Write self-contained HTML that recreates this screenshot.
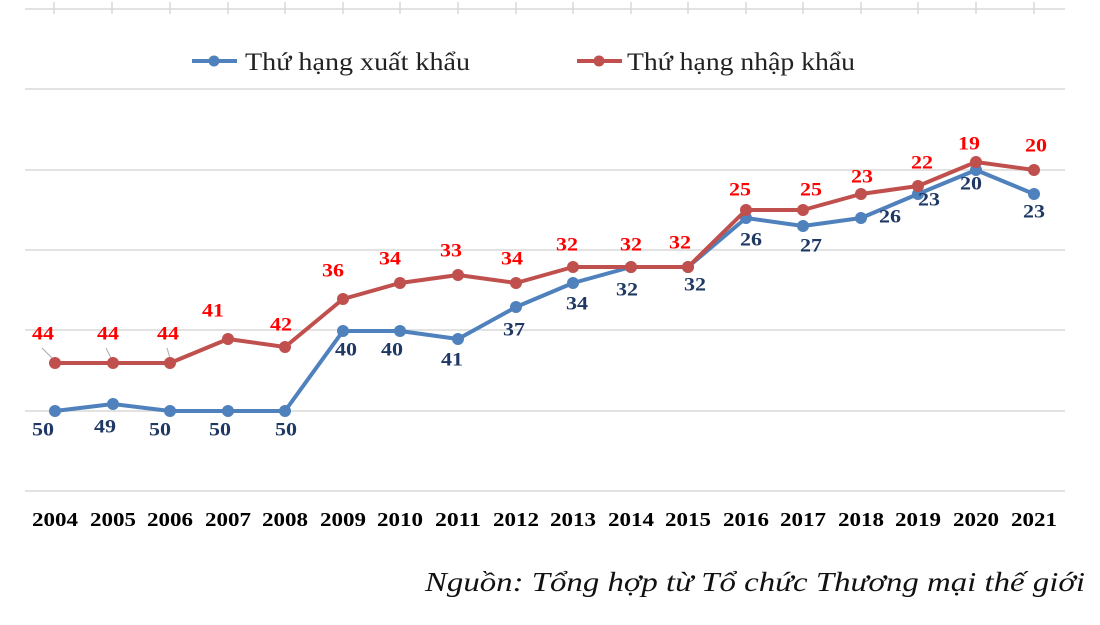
<!DOCTYPE html>
<html><head><meta charset="utf-8"><style>body{margin:0;background:#fff}svg{display:block}</style></head><body>
<svg width="1100" height="625" viewBox="0 0 1100 625" xmlns="http://www.w3.org/2000/svg" font-family="Liberation Serif, serif">
<g stroke="#d9d9d9" stroke-width="1.5">
<line x1="25" y1="9" x2="1065" y2="9"/><line x1="25" y1="89" x2="1065" y2="89"/><line x1="25" y1="170" x2="1065" y2="170"/><line x1="25" y1="250" x2="1065" y2="250"/><line x1="25" y1="330" x2="1065" y2="330"/><line x1="25" y1="411" x2="1065" y2="411"/><line x1="25" y1="491" x2="1065" y2="491"/>
<line x1="54" y1="2" x2="54" y2="14"/><line x1="112" y1="2" x2="112" y2="14"/><line x1="170" y1="2" x2="170" y2="14"/><line x1="228" y1="2" x2="228" y2="14"/><line x1="285" y1="2" x2="285" y2="14"/><line x1="343" y1="2" x2="343" y2="14"/><line x1="400" y1="2" x2="400" y2="14"/><line x1="458" y1="2" x2="458" y2="14"/><line x1="516" y1="2" x2="516" y2="14"/><line x1="573" y1="2" x2="573" y2="14"/><line x1="631" y1="2" x2="631" y2="14"/><line x1="688" y1="2" x2="688" y2="14"/><line x1="746" y1="2" x2="746" y2="14"/><line x1="803" y1="2" x2="803" y2="14"/><line x1="861" y1="2" x2="861" y2="14"/><line x1="918" y1="2" x2="918" y2="14"/><line x1="976" y1="2" x2="976" y2="14"/><line x1="1034" y1="2" x2="1034" y2="14"/>
</g>
<g stroke="#aaa" stroke-width="1"><line x1="42" y1="348" x2="52" y2="358"/><line x1="106" y1="348" x2="111" y2="358"/><line x1="167" y1="348" x2="170" y2="358"/></g>
<polyline fill="none" stroke="#4f81bd" stroke-width="4" stroke-linejoin="round" points="55,411 113,404 170,411 228,411 285,411 343,331 400,331 458,339 516,307 573,283 631,267 688,267 746,218 803,226 861,218 918,194 976,170 1034,194"/>
<g fill="#4f81bd"><circle cx="55" cy="411" r="6"/><circle cx="113" cy="404" r="6"/><circle cx="170" cy="411" r="6"/><circle cx="228" cy="411" r="6"/><circle cx="285" cy="411" r="6"/><circle cx="343" cy="331" r="6"/><circle cx="400" cy="331" r="6"/><circle cx="458" cy="339" r="6"/><circle cx="516" cy="307" r="6"/><circle cx="573" cy="283" r="6"/><circle cx="631" cy="267" r="6"/><circle cx="688" cy="267" r="6"/><circle cx="746" cy="218" r="6"/><circle cx="803" cy="226" r="6"/><circle cx="861" cy="218" r="6"/><circle cx="918" cy="194" r="6"/><circle cx="976" cy="170" r="6"/><circle cx="1034" cy="194" r="6"/></g>
<polyline fill="none" stroke="#c0504d" stroke-width="4" stroke-linejoin="round" points="55,363 113,363 170,363 228,339 285,347 343,299 400,283 458,275 516,283 573,267 631,267 688,267 746,210 803,210 861,194 918,186 976,162 1034,170"/>
<g fill="#c0504d"><circle cx="55" cy="363" r="6"/><circle cx="113" cy="363" r="6"/><circle cx="170" cy="363" r="6"/><circle cx="228" cy="339" r="6"/><circle cx="285" cy="347" r="6"/><circle cx="343" cy="299" r="6"/><circle cx="400" cy="283" r="6"/><circle cx="458" cy="275" r="6"/><circle cx="516" cy="283" r="6"/><circle cx="573" cy="267" r="6"/><circle cx="631" cy="267" r="6"/><circle cx="688" cy="267" r="6"/><circle cx="746" cy="210" r="6"/><circle cx="803" cy="210" r="6"/><circle cx="861" cy="194" r="6"/><circle cx="918" cy="186" r="6"/><circle cx="976" cy="162" r="6"/><circle cx="1034" cy="170" r="6"/></g>
<g fill="#ff0000" font-weight="bold" font-size="19" text-anchor="middle" dominant-baseline="central">
<text x="43" y="334" textLength="22" lengthAdjust="spacingAndGlyphs">44</text><text x="108" y="334" textLength="22" lengthAdjust="spacingAndGlyphs">44</text><text x="168" y="334" textLength="22" lengthAdjust="spacingAndGlyphs">44</text><text x="213" y="311" textLength="22" lengthAdjust="spacingAndGlyphs">41</text><text x="281" y="325" textLength="22" lengthAdjust="spacingAndGlyphs">42</text><text x="333" y="271" textLength="22" lengthAdjust="spacingAndGlyphs">36</text><text x="390" y="259" textLength="22" lengthAdjust="spacingAndGlyphs">34</text><text x="451" y="251" textLength="22" lengthAdjust="spacingAndGlyphs">33</text><text x="512" y="259" textLength="22" lengthAdjust="spacingAndGlyphs">34</text><text x="567" y="245" textLength="22" lengthAdjust="spacingAndGlyphs">32</text><text x="631" y="245" textLength="22" lengthAdjust="spacingAndGlyphs">32</text><text x="680" y="243" textLength="22" lengthAdjust="spacingAndGlyphs">32</text><text x="740" y="190" textLength="22" lengthAdjust="spacingAndGlyphs">25</text><text x="811" y="190" textLength="22" lengthAdjust="spacingAndGlyphs">25</text><text x="862" y="177" textLength="22" lengthAdjust="spacingAndGlyphs">23</text><text x="922" y="163" textLength="22" lengthAdjust="spacingAndGlyphs">22</text><text x="969" y="144" textLength="22" lengthAdjust="spacingAndGlyphs">19</text><text x="1036" y="146" textLength="22" lengthAdjust="spacingAndGlyphs">20</text>
</g>
<g fill="#1f3864" font-weight="bold" font-size="19" text-anchor="middle" dominant-baseline="central">
<text x="43" y="430" textLength="22" lengthAdjust="spacingAndGlyphs">50</text><text x="105" y="427" textLength="22" lengthAdjust="spacingAndGlyphs">49</text><text x="160" y="430" textLength="22" lengthAdjust="spacingAndGlyphs">50</text><text x="220" y="430" textLength="22" lengthAdjust="spacingAndGlyphs">50</text><text x="286" y="430" textLength="22" lengthAdjust="spacingAndGlyphs">50</text><text x="346" y="350" textLength="22" lengthAdjust="spacingAndGlyphs">40</text><text x="392" y="350" textLength="22" lengthAdjust="spacingAndGlyphs">40</text><text x="452" y="360" textLength="22" lengthAdjust="spacingAndGlyphs">41</text><text x="514" y="330" textLength="22" lengthAdjust="spacingAndGlyphs">37</text><text x="577" y="304" textLength="22" lengthAdjust="spacingAndGlyphs">34</text><text x="627" y="290" textLength="22" lengthAdjust="spacingAndGlyphs">32</text><text x="695" y="285" textLength="22" lengthAdjust="spacingAndGlyphs">32</text><text x="751" y="240" textLength="22" lengthAdjust="spacingAndGlyphs">26</text><text x="811" y="246" textLength="22" lengthAdjust="spacingAndGlyphs">27</text><text x="890" y="217" textLength="22" lengthAdjust="spacingAndGlyphs">26</text><text x="929" y="200" textLength="22" lengthAdjust="spacingAndGlyphs">23</text><text x="971" y="184" textLength="22" lengthAdjust="spacingAndGlyphs">20</text><text x="1034" y="212" textLength="22" lengthAdjust="spacingAndGlyphs">23</text>
</g>
<g fill="#000" font-weight="bold" font-size="20" text-anchor="middle" dominant-baseline="central">
<text x="55" y="520" textLength="46" lengthAdjust="spacingAndGlyphs">2004</text><text x="113" y="520" textLength="46" lengthAdjust="spacingAndGlyphs">2005</text><text x="170" y="520" textLength="46" lengthAdjust="spacingAndGlyphs">2006</text><text x="228" y="520" textLength="46" lengthAdjust="spacingAndGlyphs">2007</text><text x="285" y="520" textLength="46" lengthAdjust="spacingAndGlyphs">2008</text><text x="343" y="520" textLength="46" lengthAdjust="spacingAndGlyphs">2009</text><text x="400" y="520" textLength="46" lengthAdjust="spacingAndGlyphs">2010</text><text x="458" y="520" textLength="46" lengthAdjust="spacingAndGlyphs">2011</text><text x="516" y="520" textLength="46" lengthAdjust="spacingAndGlyphs">2012</text><text x="573" y="520" textLength="46" lengthAdjust="spacingAndGlyphs">2013</text><text x="631" y="520" textLength="46" lengthAdjust="spacingAndGlyphs">2014</text><text x="688" y="520" textLength="46" lengthAdjust="spacingAndGlyphs">2015</text><text x="746" y="520" textLength="46" lengthAdjust="spacingAndGlyphs">2016</text><text x="803" y="520" textLength="46" lengthAdjust="spacingAndGlyphs">2017</text><text x="861" y="520" textLength="46" lengthAdjust="spacingAndGlyphs">2018</text><text x="918" y="520" textLength="46" lengthAdjust="spacingAndGlyphs">2019</text><text x="976" y="520" textLength="46" lengthAdjust="spacingAndGlyphs">2020</text><text x="1034" y="520" textLength="46" lengthAdjust="spacingAndGlyphs">2021</text>
</g>
<line x1="192" y1="61" x2="237" y2="61" stroke="#4f81bd" stroke-width="4"/><circle cx="214" cy="61" r="5.5" fill="#4f81bd"/>
<text x="245" y="70" font-size="25" fill="#222" textLength="225" lengthAdjust="spacingAndGlyphs">Thứ hạng xuất khẩu</text>
<line x1="577" y1="61" x2="622" y2="61" stroke="#c0504d" stroke-width="4"/><circle cx="599" cy="61" r="5.5" fill="#c0504d"/>
<text x="627" y="70" font-size="25" fill="#222" textLength="228" lengthAdjust="spacingAndGlyphs">Thứ hạng nhập khẩu</text>
<text x="425" y="591" font-size="27" font-style="italic" fill="#111" textLength="660" lengthAdjust="spacingAndGlyphs">Nguồn: Tổng hợp từ Tổ chức Thương mại thế giới</text>
</svg>
</body></html>
